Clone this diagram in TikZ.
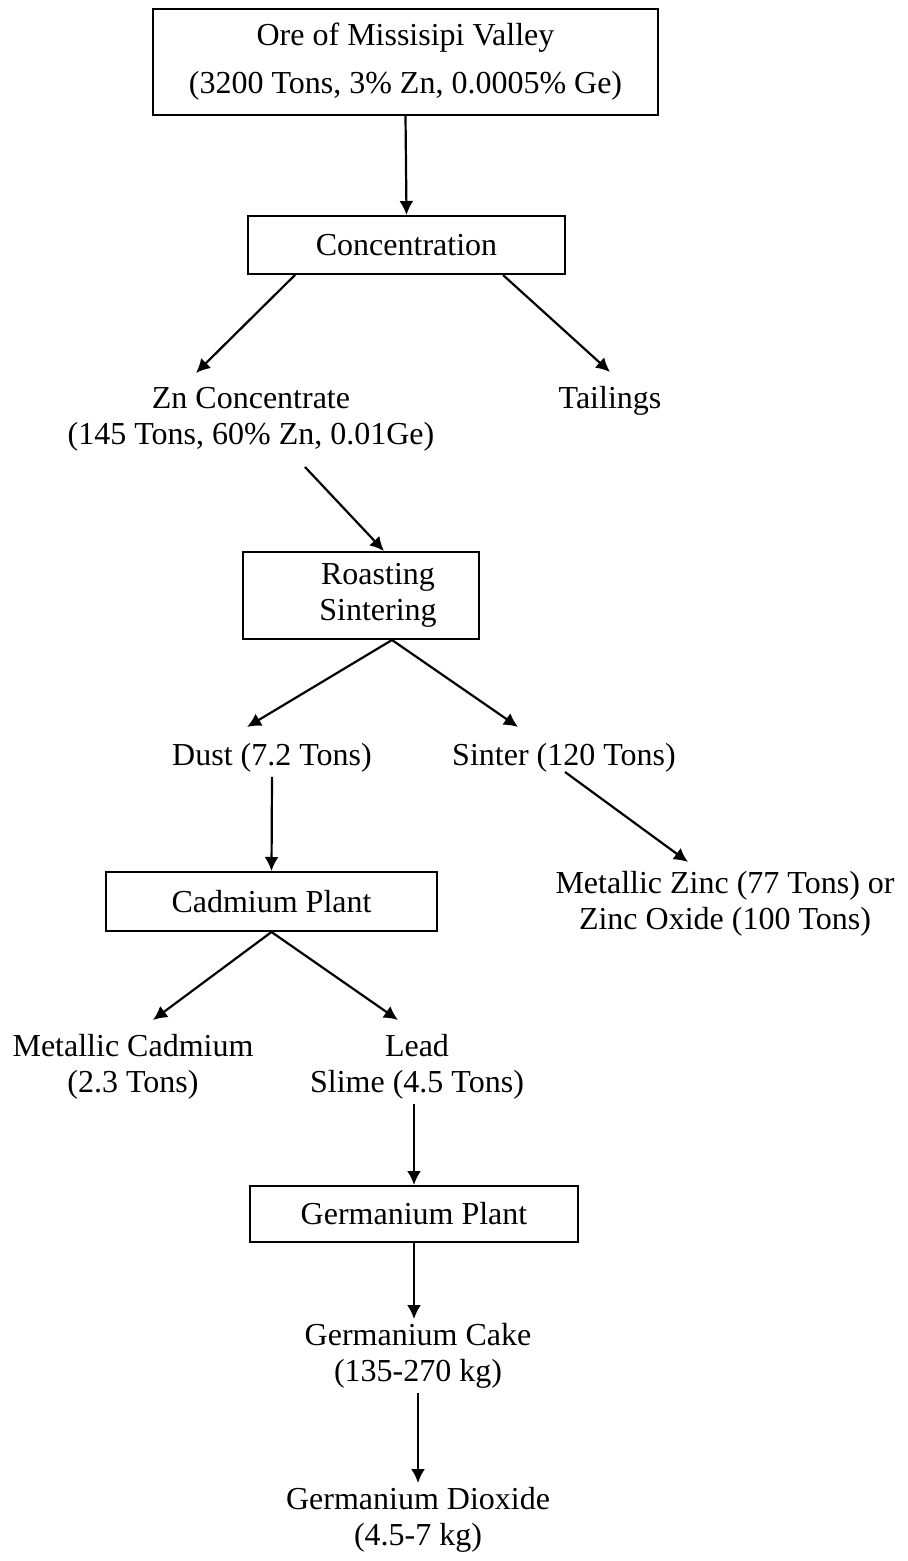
\documentclass[tikz,border=0pt]{standalone}
\usepackage{fontspec}
\setmainfont{Liberation Serif}
\usepackage{tikz}
\usetikzlibrary{positioning, arrows.meta, calc}

\begin{document}
\begin{tikzpicture}[
  x=0.5pt, y=-0.5pt,
  font=\fontsize{16}{18}\selectfont,
  box/.style={draw, line width=1pt, inner sep=3pt, align=center},
  txt/.style={align=center, inner sep=2pt},
  flow/.style={-{Latex[length=7pt, width=7pt]}, line width=1.1pt},
]
  \useasboundingbox (0,0) rectangle (908,1561);

  % Process boxes
  \node[box, minimum width=252.5pt, minimum height=53pt] (ore) at (405.5,62)
       {Ore of Missisipi Valley\\[6pt](3200 Tons, 3\% Zn, 0.0005\% Ge)};
  \node[box, minimum width=158.5pt, minimum height=29pt] (conc) at (406.5,245) {Concentration};
  \node[box, minimum width=118pt, minimum height=43.5pt] (roast) at (361,595.5) {};
  \node[txt] (roastText) at (378,595.5) {Roasting\\Sintering};
  \node[box, minimum width=165.5pt, minimum height=29.5pt] (cad) at (271.5,901.5) {Cadmium Plant};
  \node[box, minimum width=164pt, minimum height=28pt] (ge) at (414,1214) {Germanium Plant};

  % Products
  \node[txt] (zncon)  at (251,419)  {Zn Concentrate\\(145 Tons, 60\% Zn, 0.01Ge)};
  \node[txt] (tail)   at (610,401)  {Tailings};
  \node[txt] (dust)   at (272,758)  {Dust (7.2 Tons)};
  \node[txt] (sinter) at (564,758)  {Sinter (120 Tons)};
  \node[txt] (metzn)  at (725,904)  {Metallic Zinc (77 Tons) or\\Zinc Oxide (100 Tons)};
  \node[txt] (metcd)  at (133,1067) {Metallic Cadmium\\(2.3 Tons)};
  \node[txt] (lead)   at (417,1067) {Lead\\Slime (4.5 Tons)};
  \node[txt] (gecake) at (418,1356) {Germanium Cake\\(135-270 kg)};
  \node[txt] (gedio)  at (418,1520) {Germanium Dioxide\\(4.5-7 kg)};

  % Straight flows
  \foreach \a/\b in {ore.south/conc.north, dust.south/cad.north,
                     gecake.south/gedio.north}
    \draw[flow] (\a) -- (\b);
  \draw[flow] (lead.south -| ge.north) -- (ge.north);
  \draw[flow] (ge.south) -- (ge.south |- gecake.north);

  % Branching flows
  \draw[flow] ($(conc.south)+(-111.5,0)$) -- ($(zncon)+(-55,-46)$);
  \draw[flow] ($(conc.south)+(96.5,0)$) -- ($(tail)+(0,-29)$);
  \draw[flow] ($(zncon)+(54,48)$) -- ($(roast.north)+(23,0)$);
  \draw[flow] ($(roast.south)+(31,0)$) -- ($(dust)+(-25,-31)$);
  \draw[flow] ($(roast.south)+(31,0)$) -- ($(sinter)+(-46,-31)$);
  \draw[flow] ($(sinter)+(1,14)$) -- ($(metzn)+(-37,-42)$);
  \draw[flow] (cad.south) -- ($(metcd)+(20,-47)$);
  \draw[flow] (cad.south) -- ($(lead)+(-19,-47)$);
\end{tikzpicture}
\end{document}
